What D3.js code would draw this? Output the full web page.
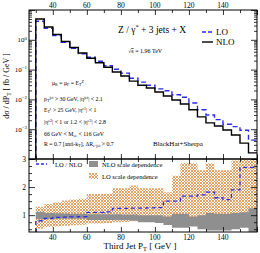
<!DOCTYPE html>
<html>
<head>
<meta charset="utf-8">
<script src="https://cdn.jsdelivr.net/npm/d3@7"></script>
<style>
  body { margin: 0; background: #fff; }
  text { font-family: "Liberation Serif", "DejaVu Serif", serif; fill: #000; }
</style>
</head>
<body>
<div id="chart"></div>
<script>
// bin edges of the third jet pT histogram [GeV]
var ptEdges = [30, 35, 40, 45, 50, 55, 60, 65, 70, 75, 80, 85, 90, 95, 100, 105, 110, 115, 120, 125, 130, 135, 140, 145, 150, 155, 160];
// dsigma/dpT [fb/GeV]
var nloXsec = [5.0, 2.7, 1.5, 0.88, 0.55, 0.36, 0.24, 0.17, 0.12, 0.083, 0.061, 0.041, 0.030, 0.024, 0.0177, 0.013, 0.0095, 0.0070, 0.0045, 0.0026, 0.00163, 0.00128, 0.00094, 0.00064, 0.00034, 0.00016];
var loXsec = [4.2, 2.45, 1.38, 0.82, 0.52, 0.34, 0.26, 0.19, 0.135, 0.103, 0.076, 0.051, 0.038, 0.030, 0.0225, 0.0195, 0.0143, 0.0118, 0.0076, 0.0045, 0.0030, 0.0021, 0.00146, 0.00122, 0.00092, 0.00043];
// lower panel
var ratioLoNlo = [0.8, 0.88, 0.92, 0.93, 0.94, 0.95, 1.1, 1.1, 1.12, 1.24, 1.24, 1.25, 1.25, 1.26, 1.27, 1.5, 1.5, 1.68, 1.68, 1.72, 1.82, 1.62, 1.55, 1.9, 2.7, 2.7];
var nloBandLo = [0.85, 0.87, 0.87, 0.87, 0.87, 0.87, 0.83, 0.83, 0.83, 0.82, 0.82, 0.8, 0.75, 0.75, 0.72, 0.65, 0.55, 0.55, 0.6, 0.5, 0.45, 0.45, 0.45, 0.5, 0.55, 0.4];
var nloBandHi = [1.12, 1.08, 1.07, 1.06, 1.05, 1.05, 1.03, 1.03, 1.03, 1.03, 1.02, 1.02, 1.0, 1.0, 1.0, 0.95, 1.05, 1.05, 0.95, 1.0, 1.08, 1.05, 1.05, 1.08, 1.1, 1.25];
var loBandLo = [0.52, 0.58, 0.6, 0.62, 0.64, 0.66, 0.7, 0.7, 0.72, 0.75, 0.76, 0.78, 0.8, 0.8, 0.8, 0.82, 0.85, 0.85, 0.85, 0.88, 0.9, 0.9, 0.9, 0.95, 0.95, 1.0];
var loBandHi = [1.3, 1.4, 1.45, 1.52, 1.56, 1.58, 1.75, 1.75, 1.76, 1.96, 1.96, 2.06, 1.96, 1.96, 1.96, 1.82, 2.4, 2.85, 2.85, 2.6, 2.85, 2.6, 2.6, 2.95, 3.1, 3.1];
// tick labels
var xLabels = [40, 60, 80, 100, 120, 140];
var logLabels = [0, -1, -2, -3];
var ratioLabels = [1, 2, 3];

var W = 260, H = 253,
  left = 29, right = 257,
  top1 = 10, bot1 = 159, bot2 = 232,
  blue = '#2a2af0';

var svg = d3.select('#chart').append('svg')
  .attr('width', W).attr('height', H);

var defs = svg.append('defs');
var pat = defs.append('pattern')
  .attr('id', 'hatch').attr('patternUnits', 'userSpaceOnUse')
  .attr('width', 3).attr('height', 3);
pat.append('path').attr('d', 'M0,0L3,3M3,0L0,3')
  .attr('stroke', '#dc8c40').attr('stroke-width', 0.8);

defs.append('clipPath').attr('id', 'clipTop').append('rect')
  .attr('x', left).attr('y', top1).attr('width', right - left).attr('height', bot1 - top1);
defs.append('clipPath').attr('id', 'clipBot').append('rect')
  .attr('x', left).attr('y', bot1).attr('width', right - left).attr('height', bot2 - bot1);

var x = d3.scaleLinear().domain([26, 160]).range([left, right]);
var yTop = d3.scaleLog().domain([1e-4, 10]).range([bot1, top1]);
var yBot = d3.scaleLinear().domain([0.4, 3]).range([bot2, bot1]);

// histogram points: one per bin start plus the closing edge
function steps(vals) {
  var pts = vals.map(function (v, i) { return [ptEdges[i], v]; });
  pts.push([ptEdges[ptEdges.length - 1], vals[vals.length - 1]]);
  return pts;
}
function bandSteps(lo, hi) {
  var pts = lo.map(function (v, i) { return [ptEdges[i], v, hi[i]]; });
  pts.push([ptEdges[ptEdges.length - 1], lo[lo.length - 1], hi[hi.length - 1]]);
  return pts;
}

// text with super / subscripts: parts are strings or [text, +1 sup | -1 sub]
function richText(g, tx, ty, parts, size, anchor) {
  var t = g.append('text').attr('x', tx).attr('y', ty)
    .attr('font-size', size).attr('text-anchor', anchor || 'start');
  var off = 0;
  parts.forEach(function (p) {
    var s = (typeof p === 'string') ? [p, 0] : p;
    var target = s[1] === 1 ? -size * 0.4 : (s[1] === -1 ? size * 0.25 : 0);
    t.append('tspan').attr('dy', target - off)
      .attr('font-size', s[1] ? size * 0.7 : size).text(s[0]);
    off = target;
  });
  return t;
}

// ---------- top panel ----------
var topG = svg.append('g').attr('clip-path', 'url(#clipTop)');

var lineTop = d3.line()
  .x(function (d) { return x(d[0]); })
  .y(function (d) { return yTop(d[1]); })
  .curve(d3.curveStepAfter);

var nloPts = [[ptEdges[0], 1e-4]].concat(steps(nloXsec));
var loPts = [[ptEdges[0], 1e-4]].concat(steps(loXsec));

topG.append('path').attr('d', lineTop(loPts))
  .attr('fill', 'none').attr('stroke', blue).attr('stroke-width', 1.4)
  .attr('stroke-dasharray', '5,3');
topG.append('path').attr('d', lineTop(nloPts))
  .attr('fill', 'none').attr('stroke', '#000').attr('stroke-width', 1.4);

// ---------- lower panel ----------
var botG = svg.append('g').attr('clip-path', 'url(#clipBot)');

var band = d3.area()
  .x(function (d) { return x(d[0]); })
  .y0(function (d) { return yBot(d[1]); })
  .y1(function (d) { return yBot(d[2]); })
  .curve(d3.curveStepAfter);

botG.append('path').attr('d', band(bandSteps(loBandLo, loBandHi)))
  .attr('fill', 'url(#hatch)');
botG.append('path').attr('d', band(bandSteps(nloBandLo, nloBandHi)))
  .attr('fill', '#8f8f8f');

var lineBot = d3.line()
  .x(function (d) { return x(d[0]); })
  .y(function (d) { return yBot(d[1]); })
  .curve(d3.curveStepAfter);
botG.append('path').attr('d', lineBot([[ptEdges[0], 0.4]].concat(steps(ratioLoNlo))))
  .attr('fill', 'none').attr('stroke', blue).attr('stroke-width', 1.3)
  .attr('stroke-dasharray', '4,3');

// ---------- axes / ticks ----------
function tickAxis(axis, pos, vals, size) {
  var g = svg.append('g').attr('transform', pos)
    .call(axis.tickValues(vals).tickSize(size).tickFormat(''));
  g.select('.domain').remove();
  g.selectAll('line').attr('stroke', '#000').attr('stroke-width', 0.8);
}

var xMajor = [40, 60, 80, 100, 120, 140, 160];
var xMinor = [30, 50, 70, 90, 110, 130, 150];
[['t', top1], ['b', bot1], ['t', bot1], ['b', bot2]].forEach(function (a) {
  var ax = a[0] === 't' ? d3.axisTop(x) : d3.axisBottom(x);
  var ax2 = a[0] === 't' ? d3.axisTop(x) : d3.axisBottom(x);
  tickAxis(ax, 'translate(0,' + a[1] + ')', xMajor, -5);
  tickAxis(ax2, 'translate(0,' + a[1] + ')', xMinor, -3);
});

var logMajor = [1e-4, 1e-3, 1e-2, 1e-1, 1, 10];
var logMinor = [];
[-4, -3, -2, -1, 0].forEach(function (k) {
  for (var m = 2; m < 10; m++) logMinor.push(m * Math.pow(10, k));
});
tickAxis(d3.axisLeft(yTop), 'translate(' + left + ',0)', logMajor, -6);
tickAxis(d3.axisLeft(yTop), 'translate(' + left + ',0)', logMinor, -3);
tickAxis(d3.axisRight(yTop), 'translate(' + right + ',0)', logMajor, -6);
tickAxis(d3.axisRight(yTop), 'translate(' + right + ',0)', logMinor, -3);

var rMajor = [1, 2, 3];
var rMinor = [0.5, 0.75, 1.25, 1.5, 1.75, 2.25, 2.5, 2.75];
tickAxis(d3.axisLeft(yBot), 'translate(' + left + ',0)', rMajor, -6);
tickAxis(d3.axisLeft(yBot), 'translate(' + left + ',0)', rMinor, -3);
tickAxis(d3.axisRight(yBot), 'translate(' + right + ',0)', rMajor, -6);
tickAxis(d3.axisRight(yBot), 'translate(' + right + ',0)', rMinor, -3);

// frames
svg.append('rect').attr('x', left).attr('y', top1)
  .attr('width', right - left).attr('height', bot1 - top1)
  .attr('fill', 'none').attr('stroke', '#000').attr('stroke-width', 1);
svg.append('rect').attr('x', left).attr('y', bot1)
  .attr('width', right - left).attr('height', bot2 - bot1)
  .attr('fill', 'none').attr('stroke', '#000').attr('stroke-width', 1);

// tick labels
xLabels.forEach(function (v) {
  svg.append('text').attr('x', x(v)).attr('y', 7.5)
    .attr('font-size', 7.5).attr('text-anchor', 'middle').text(v);
  svg.append('text').attr('x', x(v)).attr('y', 240)
    .attr('font-size', 7.5).attr('text-anchor', 'middle').text(v);
});
logLabels.forEach(function (k) {
  richText(svg, 27, yTop(Math.pow(10, k)) + 2.5, ['10', [String(k).replace('-', '\u2212'), 1]], 7, 'end');
});
ratioLabels.forEach(function (v) {
  svg.append('text').attr('x', 26).attr('y', yBot(v) + 2.5)
    .attr('font-size', 7.5).attr('text-anchor', 'end').text(v);
});

// axis titles
richText(svg, 140, 249, ['Third Jet  P', ['T', -1], '  [ GeV ]'], 9, 'middle');
richText(svg.append('g').attr('transform', 'translate(9,86) rotate(-90)'), 0, 0,
  ['d\u03c3 / dP', ['T', -1], '   [ fb / GeV ]'], 8, 'middle');

// ---------- annotations ----------
richText(svg, 118, 33, ['Z / \u03b3', ['*', 1], ' + 3 jets + X'], 9.5);
var rs = svg.append('text').attr('x', 128).attr('y', 53).attr('font-size', 6);
rs.append('tspan').text('\u221a');
rs.append('tspan').attr('text-decoration', 'overline').text('s');
rs.append('tspan').text('  =  1.96 TeV');

// legend top
svg.append('line').attr('x1', 202).attr('x2', 213).attr('y1', 32).attr('y2', 32)
  .attr('stroke', blue).attr('stroke-width', 1.4).attr('stroke-dasharray', '4,2');
svg.append('text').attr('x', 216).attr('y', 35).attr('font-size', 9).text('LO');
svg.append('line').attr('x1', 202).attr('x2', 213).attr('y1', 42).attr('y2', 42)
  .attr('stroke', '#000').attr('stroke-width', 1.4);
svg.append('text').attr('x', 216).attr('y', 45).attr('font-size', 9).text('NLO');

var fs = 5.8;
richText(svg, 52, 85, ['\u03bc', ['R', -1], ' = \u03bc', ['F', -1], ' = E', ['T', -1], ['Z', 1]], fs);
richText(svg, 44, 101, ['p', ['T', -1], ['jet', 1], ' > 30 GeV, |\u03b7', ['jet', 1], '| < 2.1'], fs);
richText(svg, 44, 112, ['E', ['T', -1], ['e', 1], ' > 25 GeV, |\u03b7', ['e1', 1], '| < 1'], fs);
richText(svg, 44, 124, ['|\u03b7', ['e2', 1], '| < 1  or  1.2 < |\u03b7', ['e2', 1], '| < 2.8'], fs);
richText(svg, 44, 136, ['66 GeV < M', ['ee', -1], ' < 116 GeV'], fs);
richText(svg, 44, 146, ['R  =  0.7  [anti-k', ['T', -1], '],  \u0394R', ['e-jet', -1], ' > 0.7'], fs);
svg.append('text').attr('x', 153).attr('y', 146).attr('font-size', 7).text('BlackHat+Sherpa');

// legend bottom
svg.append('line').attr('x1', 36).attr('x2', 47).attr('y1', 164).attr('y2', 164)
  .attr('stroke', blue).attr('stroke-width', 1.3).attr('stroke-dasharray', '3,2');
svg.append('text').attr('x', 55).attr('y', 166.5).attr('font-size', 6.5).text('LO / NLO');
svg.append('rect').attr('x', 89).attr('y', 161).attr('width', 9).attr('height', 6)
  .attr('fill', '#8f8f8f');
svg.append('text').attr('x', 102).attr('y', 166.5).attr('font-size', 6.5).text('NLO scale dependence');
svg.append('rect').attr('x', 89).attr('y', 173).attr('width', 9).attr('height', 6)
  .attr('fill', 'url(#hatch)');
svg.append('text').attr('x', 102).attr('y', 178.5).attr('font-size', 6.5).text('LO scale dependence');
</script>
</body>
</html>
